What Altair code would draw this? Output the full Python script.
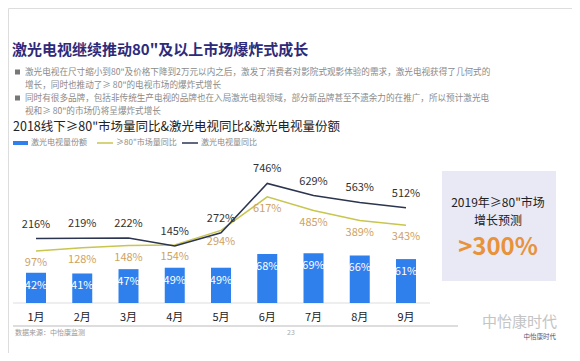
import altair as alt
import pandas as pd

months = ["1月", "2月", "3月", "4月", "5月", "6月", "7月", "8月", "9月"]
laser_share = [42, 41, 47, 49, 49, 68, 69, 66, 61]          # 激光电视量份额 (%)
big_screen_yoy = [97, 128, 148, 154, 294, 617, 485, 389, 343]  # ≥80"市场量同比 (%)
laser_yoy = [216, 219, 222, 145, 272, 746, 629, 563, 512]      # 激光电视量同比 (%)

FONT = "Noto Sans CJK SC"
BLUE = "#2f80ed"
NAVY = "#2c3550"
OLIVE = "#c8c64e"
TAN = "#cfa262"

df = pd.DataFrame({
    "month": months,
    "share": laser_share,
    "big": big_screen_yoy,
    "laser": laser_yoy,
})
df["share_lbl"] = [f"{v}%" for v in laser_share]
df["big_lbl"] = [f"{v}%" for v in big_screen_yoy]
df["laser_lbl"] = [f"{v}%" for v in laser_yoy]

X = alt.X("month:O", sort=months, scale=alt.Scale(type="point", range=[28, 398], padding=0), axis=None)


def ybar():
    return alt.Y("share:Q", scale=alt.Scale(domain=[0, 100], range=[295, 223]), axis=None)


def yline(field):
    return alt.Y(f"{field}:Q", scale=alt.Scale(domain=[0, 1000], range=[253, 149]), axis=None)


base = alt.Chart(df)

bars = base.mark_bar(width=20, color=BLUE).encode(x=X, y=ybar())
bar_text = base.mark_text(font=FONT, fontSize=11, color="white", dy=13).encode(
    x=X, y=ybar(), text="share_lbl:N")

line_big = base.mark_line(color=OLIVE, strokeWidth=1.5).encode(x=X, y=yline("big"))
line_laser = base.mark_line(color=NAVY, strokeWidth=1.5).encode(x=X, y=yline("laser"))
big_text = base.mark_text(font=FONT, fontSize=11, color=TAN, dy=12).encode(
    x=X, y=yline("big"), text="big_lbl:N")
laser_text = base.mark_text(font=FONT, fontSize=11, color="#333333", dy=-14).encode(
    x=X, y=yline("laser"), text="laser_lbl:N")
month_text = base.mark_text(font=FONT, fontSize=11, color="#222222", baseline="middle").encode(
    x=X, text="month:N", y=alt.value(310))

one = alt.Data(values=[{}])


def txt(x, y, s, size=10, color="#333", align="left", weight="normal", baseline="middle"):
    return alt.Chart(one).mark_text(font=FONT, fontSize=size, color=color, align=align,
                                    fontWeight=weight, baseline=baseline).encode(
        x=alt.value(x), y=alt.value(y), text=alt.value(s))


def rect(x, x2, y, y2, color):
    return alt.Chart(one).mark_rect(color=color).encode(
        x=alt.value(x), x2=alt.value(x2), y=alt.value(y), y2=alt.value(y2))


def rule(x, x2, y, color, w=1):
    return alt.Chart(one).mark_rule(color=color, strokeWidth=w).encode(
        x=alt.value(x), x2=alt.value(x2), y=alt.value(y))


G = "#8a8a8a"
LY = 135
BS = 8.6
back = [
    txt(4, 42, "激光电视继续推动80\"及以上市场爆炸式成长", size=15, color="#2e2a7a", weight="bold"),
    rect(7, 12, 61.5, 66.5, "#777777"),
    txt(17, 64, "激光电视在尺寸缩小到80\"及价格下降到2万元以内之后，激发了消费者对影院式观影体验的需求，激光电视获得了几何式的", size=BS, color=G),
    txt(17, 76.5, "增长，同时也推动了≥ 80\"的电视市场的爆炸式增长", size=BS, color=G),
    rect(7, 12, 87.5, 92.5, "#777777"),
    txt(17, 90, "同时有很多品牌，包括非传统生产电视的品牌也在入局激光电视领域，部分新品牌甚至不遗余力的在推广，所以预计激光电", size=BS, color=G),
    txt(17, 102.5, "视和≥ 80\"的市场仍将呈爆炸式增长", size=BS, color=G),
    txt(5, 119, "2018线下≥80\"市场量同比&激光电视同比&激光电视量份额", size=12.5, color="#222222"),
    rect(5, 20, LY - 2, LY + 2, BLUE),
    txt(23, LY, "激光电视量份额", size=8, color=G),
    rule(89, 105, LY, OLIVE, 1.5),
    txt(108, LY, "≥80\"市场量同比", size=8, color=G),
    rule(174, 190, LY, NAVY, 1.5),
    txt(193, LY, "激光电视量同比", size=8, color=G),
    rule(5, 422, 295, "#dddddd", 1),
    rule(5, 450, 318, "#bbbbbb", 1),
    txt(7, 325, "数据来源：中怡康监测", size=7, color="#999999"),
    txt(279, 325, "23", size=7, color="#aaaaaa"),
]
front = [
    rect(434, 548, 163, 273, "#e9e9f6"),
    txt(490, 195, "2019年≥80\"市场", size=12, color="#222222", align="center"),
    txt(490, 213, "增长预测", size=12, color="#222222", align="center"),
    txt(490, 240, ">300%", size=24, color="#e8923a", align="center", weight="bold"),
    txt(549, 314, "中怡康时代", size=15, color="#c4c4c4", align="right"),
    txt(548, 329, "中怡康时代", size=6.5, color="#555577", align="right"),
]

chart = alt.layer(
    *back,
    bars, line_big, line_laser, bar_text, big_text, laser_text, month_text,
    *front,
).resolve_scale(y="independent").properties(
    width=564, height=345, autosize=alt.AutoSizeParams(type="none"), padding=0
).configure_view(stroke=None).configure(background="white")

chart.save("out.html", embed_options={"renderer": "svg", "actions": False})
